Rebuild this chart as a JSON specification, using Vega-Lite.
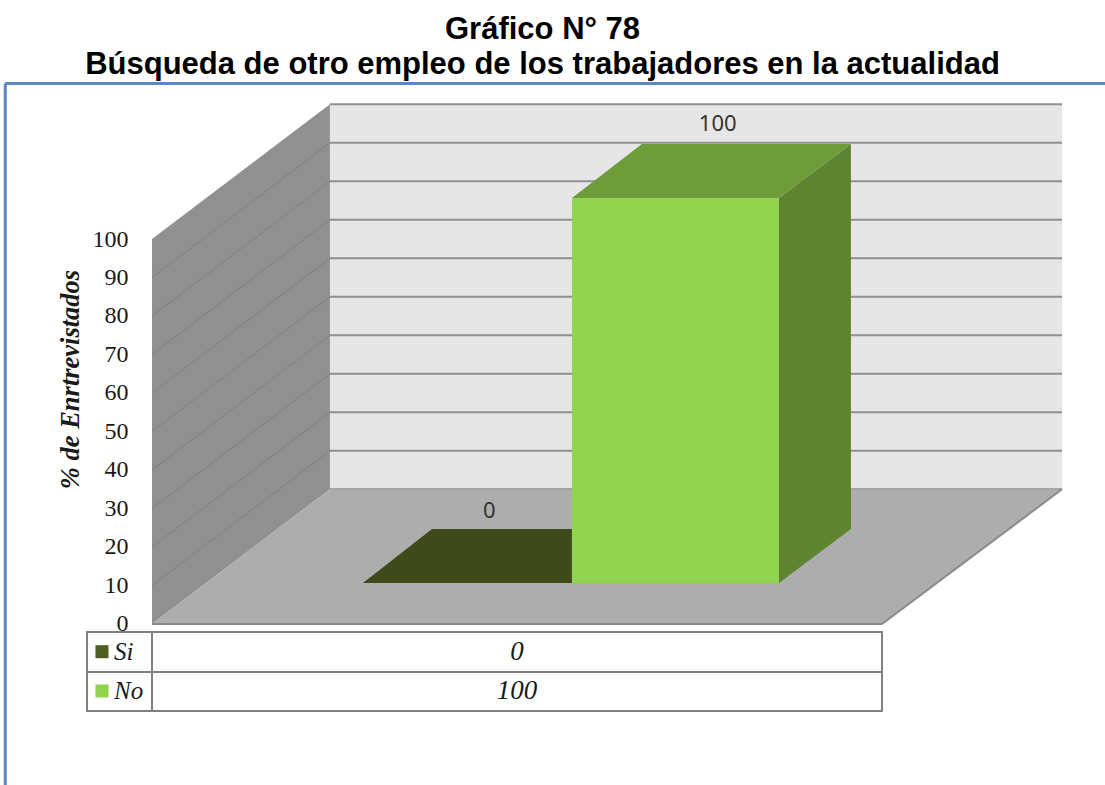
{"$schema":"https://vega.github.io/schema/vega-lite/v6.json","width":1105,"height":703,"padding":{"left":0,"top":13,"right":0,"bottom":0},"background":"white","autosize":{"type":"pad"},
"title":{"text":["Gráfico N° 78","Búsqueda de otro empleo de los trabajadores en la actualidad"],"font":"Liberation Sans","fontWeight":"bold","fontSize":31,"lineHeight":35,"color":"#000000","anchor":"middle","offset":1,"dx":-10},
"view":{"stroke":null},
"encoding":{"x":{"field":"x","type":"quantitative","scale":{"domain":[-20.82,130.55],"nice":false,"zero":false},"axis":null},
"y":{"field":"y","type":"quantitative","scale":{"domain":[-41.82,140.78],"nice":false,"zero":false},"axis":{"values":[0,10,20,30,40,50,60,70,80,90,100],"offset":-128,"orient":"left","domain":false,"ticks":false,"grid":false,"labelPadding":0,"labelFont":"Liberation Serif","labelFontSize":24,"labelColor":"#1a1a1a","title":"% de Enrtrevistados","titleFont":"Liberation Serif","titleFontStyle":"italic","titleFontWeight":"bold","titleFontSize":26.5,"titleColor":"#1a1a1a","titleAngle":-90,"titleAnchor":"middle","titleX":-58,"titleY":297,"titleAlign":"center","titleBaseline":"middle"}}},
"layer":[
{"mark":{"type":"area"},"data":{"values":[{"face":"Pared lateral","x":0,"y":100,"y2":0},{"face":"Pared lateral","x":24.38,"y":135,"y2":35},{"face":"Pared fondo","x":24.38,"y":135,"y2":35},{"face":"Pared fondo","x":124.66,"y":135,"y2":35}]},"encoding":{"y2":{"field":"y2"},"color":{"field":"face","type":"nominal","legend":null,"scale":{"domain":["Pared lateral","Pared fondo","Piso","Si tapa","No frente","No lado","No tapa","Si","No"],"range":["#909090","#e6e6e6","#adadad","#3f4a1b","#92d34f","#5e8431","#6e9c3b","#4f5e22","#92d34f"]}}}},
{"mark":{"type":"rule","stroke":"#8f8f8f","strokeWidth":2},"data":{"values":[{"x":24.38,"x2":124.66,"y":35,"y2":35},{"x":24.38,"x2":124.66,"y":45,"y2":45},{"x":24.38,"x2":124.66,"y":55,"y2":55},{"x":24.38,"x2":124.66,"y":65,"y2":65},{"x":24.38,"x2":124.66,"y":75,"y2":75},{"x":24.38,"x2":124.66,"y":85,"y2":85},{"x":24.38,"x2":124.66,"y":95,"y2":95},{"x":24.38,"x2":124.66,"y":105,"y2":105},{"x":24.38,"x2":124.66,"y":115,"y2":115},{"x":24.38,"x2":124.66,"y":125,"y2":125},{"x":24.38,"x2":124.66,"y":135,"y2":135}]},"encoding":{"x2":{"field":"x2"},"y2":{"field":"y2"}}},
{"mark":{"type":"rule","stroke":"#808080","strokeWidth":1},"data":{"values":[{"x":0,"x2":24.38,"y":10,"y2":45},{"x":0,"x2":24.38,"y":20,"y2":55},{"x":0,"x2":24.38,"y":30,"y2":65},{"x":0,"x2":24.38,"y":40,"y2":75},{"x":0,"x2":24.38,"y":50,"y2":85},{"x":0,"x2":24.38,"y":60,"y2":95},{"x":0,"x2":24.38,"y":70,"y2":105},{"x":0,"x2":24.38,"y":80,"y2":115},{"x":0,"x2":24.38,"y":90,"y2":125}]},"encoding":{"x2":{"field":"x2"},"y2":{"field":"y2"}}},
{"mark":{"type":"area","orient":"horizontal"},"data":{"values":[{"face":"Piso","y":0,"x":0,"x2":100},{"face":"Piso","y":35,"x":24.38,"x2":124.66}]},"encoding":{"x2":{"field":"x2"},"color":{"field":"face","type":"nominal","legend":null}}},
{"mark":{"type":"rule","stroke":"#8a8a8a","strokeWidth":2},"data":{"values":[{"x":0,"x2":100,"y":0,"y2":0},{"x":100,"x2":124.66,"y":0,"y2":35}]},"encoding":{"x2":{"field":"x2"},"y2":{"field":"y2"}}},
{"mark":{"type":"area","orient":"horizontal"},"data":{"values":[{"face":"Si tapa","y":10.65,"x":28.9,"x2":57.53},{"face":"Si tapa","y":24.65,"x":38.36,"x2":67}]},"encoding":{"x2":{"field":"x2"},"color":{"field":"face","type":"nominal","legend":null}}},
{"mark":{"type":"area"},"data":{"values":[{"face":"No lado","x":85.89,"y":110.65,"y2":10.65},{"face":"No lado","x":95.75,"y":124.65,"y2":24.65},{"face":"No frente","x":57.53,"y":110.65,"y2":10.65},{"face":"No frente","x":85.89,"y":110.65,"y2":10.65}]},"encoding":{"y2":{"field":"y2"},"color":{"field":"face","type":"nominal","legend":null}}},
{"mark":{"type":"area","orient":"horizontal"},"data":{"values":[{"face":"No tapa","y":110.65,"x":57.53,"x2":85.89},{"face":"No tapa","y":124.65,"x":67.12,"x2":95.75}]},"encoding":{"x2":{"field":"x2"},"color":{"field":"face","type":"nominal","legend":null}}},
{"mark":{"type":"text","font":"Noto Sans","fontSize":22,"color":"#333333"},"data":{"values":[{"serie":"Si","value":0,"x":46.2,"y":29.4},{"serie":"No","value":100,"x":77.5,"y":129.9}]},"encoding":{"text":{"field":"value","type":"quantitative"}}},
{"mark":{"type":"rect","fill":"white","stroke":"#808080","strokeWidth":2},"data":{"values":[{"x":-8.9,"x2":100,"y":-2.08,"y2":-22.6}]},"encoding":{"x2":{"field":"x2"},"y2":{"field":"y2"}}},
{"mark":{"type":"rule","stroke":"#808080","strokeWidth":2},"data":{"values":[{"x":-8.9,"x2":100,"y":-12.47,"y2":-12.47},{"x":0,"x2":0,"y":-2.08,"y2":-22.6}]},"encoding":{"x2":{"field":"x2"},"y2":{"field":"y2"}}},
{"mark":{"type":"point","shape":"square","filled":true,"size":170,"opacity":1},"data":{"values":[{"serie":"Si","x":-6.85,"y":-7.2},{"serie":"No","x":-6.85,"y":-17.4}]},"encoding":{"color":{"field":"serie","type":"nominal","legend":null}}},
{"mark":{"type":"text","font":"Liberation Serif","fontStyle":"italic","fontSize":25,"align":"left","color":"#1a1a1a"},"data":{"values":[{"serie":"Si","x":-5.2,"y":-7.2},{"serie":"No","x":-5.2,"y":-17.4}]},"encoding":{"text":{"field":"serie"}}},
{"mark":{"type":"text","font":"Liberation Serif","fontStyle":"italic","fontSize":27,"color":"#1a1a1a"},"data":{"values":[{"serie":"Si","value":0,"x":50,"y":-7.2},{"serie":"No","value":100,"x":50,"y":-17.4}]},"encoding":{"text":{"field":"value","type":"quantitative"}}},
{"mark":{"type":"rule","stroke":"#5b87c4","strokeWidth":3},"data":{"values":[{"x":-20.1,"x2":-20.1,"y":-41.82,"y2":140.4},{"x":-20.1,"x2":130.55,"y":140.4,"y2":140.4}]},"encoding":{"x2":{"field":"x2"},"y2":{"field":"y2"}}}
]}
